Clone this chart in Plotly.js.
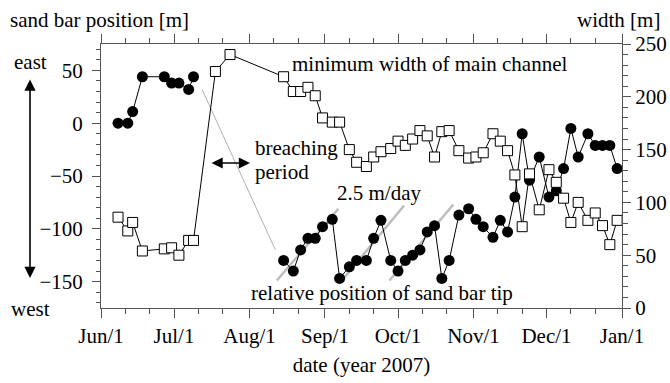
<!DOCTYPE html>
<html>
<head>
<meta charset="utf-8">
<script src="https://cdn.plot.ly/plotly-3.0.1.min.js"></script>
<style>html,body{margin:0;padding:0;background:#fff;}#chart{width:670px;height:383px;}</style>
</head>
<body>
<div id="chart"></div>
<script>
// ---- data ----
var monthTicks = ['2007-06-01','2007-07-01','2007-08-01','2007-09-01','2007-10-01','2007-11-01','2007-12-01','2008-01-01'];
var monthLabels = ['Jun/1','Jul/1','Aug/1','Sep/1','Oct/1','Nov/1','Dec/1','Jan/1'];

// sand bar position before breaching (left axis)
var posDatesA = ['2007-06-08','2007-06-12','2007-06-14','2007-06-18','2007-06-27','2007-06-30','2007-07-03','2007-07-07','2007-07-09'];
var posA = [0, 0, 11, 44, 44, 38, 38, 32, 44];

// relative position of sand bar tip after breaching (left axis)
var posDatesB = ['2007-08-15','2007-08-19','2007-08-22','2007-08-25','2007-08-28','2007-08-31','2007-09-04','2007-09-07','2007-09-11','2007-09-14','2007-09-18','2007-09-21','2007-09-24','2007-09-28','2007-10-01','2007-10-04','2007-10-07','2007-10-10','2007-10-13','2007-10-16','2007-10-19','2007-10-22','2007-10-26','2007-10-30','2007-11-02','2007-11-05','2007-11-09','2007-11-12','2007-11-15','2007-11-18','2007-11-21','2007-11-24','2007-11-28','2007-12-02','2007-12-05','2007-12-08','2007-12-11','2007-12-14','2007-12-18','2007-12-21','2007-12-24','2007-12-27','2007-12-30'];
var posB = [-130,-140,-120,-109,-109,-98,-91,-147,-136,-130,-130,-109,-92,-130,-140,-130,-125,-120,-103,-97,-147,-130,-87,-81,-91,-98,-108,-92,-103,-70,-10,-54,-32,-70,-64,-43,-5,-32,-10,-21,-21,-21,-43];

// minimum width of main channel (right axis)
var widthDates = ['2007-06-08','2007-06-12','2007-06-14','2007-06-18','2007-06-27','2007-06-30','2007-07-03','2007-07-07','2007-07-09','2007-07-18','2007-07-24'].concat(posDatesB);
var widthVals = [86,73,81,54,56,57,50,64,64,224,240,
  219,205,205,209,201,180,176,176,150,138,134,143,148,151,158,154,160,168,163,143,167,168,149,142,143,147,165,158,149,126,77,127,93,131,119,104,81,100,83,90,78,60,83];

// guide lines
var breachLineX = ['2007-07-12 12:00','2007-08-11 15:00'];
var breachLineY = [32, -120];
var rateLineAX = ['2007-08-12 05:00','2007-09-06 12:00'];
var rateLineAY = [-149, -81];
var rateLineBX = ['2007-09-07 22:00','2007-10-03 12:00'];
var rateLineBY = [-149, -78];
var rateLineCX = ['2007-09-27 12:00','2007-10-23 17:00'];
var rateLineCY = [-149, -77];

// ---- chart ----
var FONT = 'Liberation Serif, Times New Roman, serif';
var AX = '#555';

// minor x ticks on the 11th and 21st of each month
var minorX = [];
['2007-06','2007-07','2007-08','2007-09','2007-10','2007-11','2007-12'].forEach(function(m){ minorX.push(m+'-11'); minorX.push(m+'-21'); });

var grayRate = {color:'#bdbdbd', width:2.5};
var traces = [
  {x: breachLineX, y: breachLineY, mode:'lines', line:{color:'#b0b0b0', width:1}, hoverinfo:'skip', showlegend:false},
  {x: rateLineAX, y: rateLineAY, mode:'lines', line:grayRate, showlegend:false},
  {x: rateLineBX, y: rateLineBY, mode:'lines', line:grayRate, showlegend:false},
  {x: rateLineCX, y: rateLineCY, mode:'lines', line:grayRate, showlegend:false},
  {x: widthDates, y: widthVals, yaxis:'y2', mode:'lines+markers', line:{color:'#000', width:1},
   marker:{symbol:'square', size:10, color:'#fff', line:{color:'#000', width:1}}, showlegend:false},
  {x: posDatesA, y: posA, mode:'lines+markers', line:{color:'#000', width:1},
   marker:{symbol:'circle', size:11, color:'#000'}, showlegend:false},
  {x: posDatesB, y: posB, mode:'lines+markers', line:{color:'#000', width:1},
   marker:{symbol:'circle', size:11, color:'#000'}, showlegend:false}
];

function px(x){ return (x-101)/521; }
function py(y){ return (308-y)/264; }

var txt = function(t, x, y, xa){ return {text:t, xref:'paper', yref:'paper', x:px(x), y:py(y), xanchor:xa||'left', yanchor:'middle', showarrow:false, font:{family:FONT, size:21, color:'#000'}}; };

var annotations = [
  txt('sand bar position [m]', 8, 20),
  txt('width [m]', 662, 20, 'right'),
  txt('east', 30, 62, 'center'),
  txt('west', 30, 309, 'center'),
  txt('minimum width of main channel', 290, 64),
  txt('breaching', 253, 148),
  txt('period', 253, 172),
  txt('2.5 m/day', 335, 193),
  txt('relative position of sand bar tip', 249, 293),
  {text:'', xref:'paper', yref:'paper', x:px(30), y:py(278), ax:0, ay:-200, showarrow:true,
   arrowhead:2, startarrowhead:2, arrowside:'end+start', arrowsize:1.4, startarrowsize:1.4, arrowwidth:1.6, arrowcolor:'#000'},
  {text:'', xref:'paper', yref:'paper', x:px(250), y:py(163), ax:-40, ay:0, showarrow:true,
   arrowhead:2, startarrowhead:2, arrowside:'end+start', arrowsize:1.4, startarrowsize:1.4, arrowwidth:1.6, arrowcolor:'#000'}
];

var layout = {
  width:670, height:383,
  margin:{l:101, r:48, t:44, b:75},
  paper_bgcolor:'#fff', plot_bgcolor:'#fff',
  font:{family:FONT, size:21, color:'#000'},
  showlegend:false,
  xaxis:{
    type:'date', range:['2007-06-01','2008-01-01'],
    tickmode:'array', tickvals:monthTicks, ticktext:monthLabels,
    ticks:'outside', ticklen:9, tickwidth:1, tickcolor:AX,
    showline:true, linecolor:AX, linewidth:1, mirror:'ticks',
    showgrid:false, zeroline:false,
    minor:{tickmode:'array', tickvals:minorX, ticks:'outside', ticklen:5, tickcolor:AX, showgrid:false},
    title:{text:'date (year 2007)', standoff:10, font:{family:FONT, size:21}},
    tickfont:{family:FONT, size:21}
  },
  yaxis:{
    range:[-175, 75], tickmode:'linear', tick0:0, dtick:50,
    ticks:'outside', ticklen:8, tickwidth:1, tickcolor:AX,
    showline:true, linecolor:AX, linewidth:1,
    showgrid:false, zeroline:false, ticklabelstandoff:5,
    minor:{dtick:10, ticks:'outside', ticklen:4.5, tickcolor:AX, showgrid:false},
    tickfont:{family:FONT, size:21}
  },
  yaxis2:{
    overlaying:'y', side:'right', range:[0, 250], tickmode:'linear', tick0:0, dtick:50,
    ticks:'outside', ticklen:8, tickwidth:1, tickcolor:AX,
    showline:true, linecolor:AX, linewidth:1,
    showgrid:false, zeroline:false,
    minor:{dtick:10, ticks:'outside', ticklen:4.5, tickcolor:AX, showgrid:false},
    tickfont:{family:FONT, size:21}
  },
  annotations: annotations
};

Plotly.newPlot('chart', traces, layout, {staticPlot:true, displayModeBar:false});
</script>
</body>
</html>
